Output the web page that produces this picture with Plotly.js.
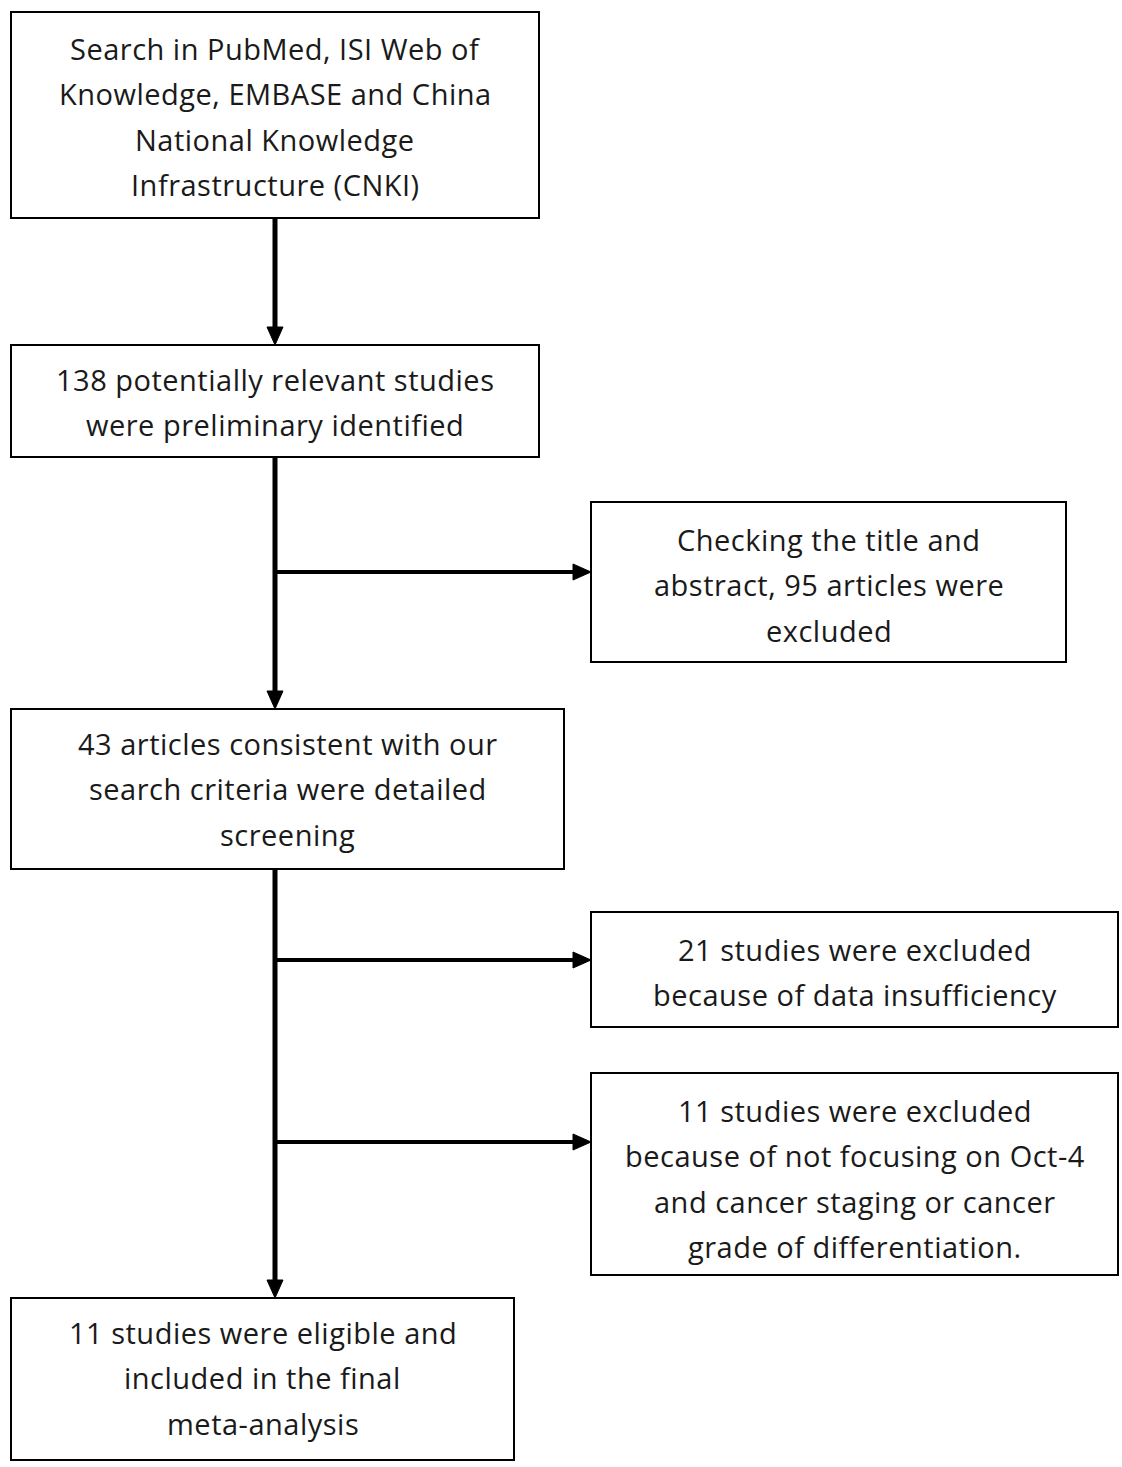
<!DOCTYPE html>
<html><head><meta charset="utf-8">
<script src="https://cdn.plot.ly/plotly-3.0.1.min.js"></script>
<style>html,body{margin:0;padding:0;background:#fff}#chart{width:1122px;height:1467px}
.annotation-text{letter-spacing:0.5px}</style>
</head><body><div id="chart"></div>
<script>
// Flowchart content
const boxNames = ["search", "identified", "excluded1", "screening", "excluded2", "excluded3", "included"];
const boxLines = [
  ["Search in PubMed, ISI Web of", "Knowledge, EMBASE and China", "National Knowledge", "Infrastructure (CNKI)"],
  ["138 potentially relevant studies", "were preliminary identified"],
  ["Checking the title and", "abstract, 95 articles were", "excluded"],
  ["43 articles consistent with our", "search criteria were detailed", "screening"],
  ["21 studies were excluded", "because of data insufficiency"],
  ["11 studies were excluded", "because of not focusing on Oct-4", "and cancer staging or cancer", "grade of differentiation."],
  ["11 studies were eligible and", "included in the final", "meta-analysis"]
];

// Layout geometry (pixel space)
const boxGeom = {
  search:     {x0: 11,  x1: 539,  y0: 12,   y1: 218,  ty: 48},
  identified: {x0: 11,  x1: 539,  y0: 345,  y1: 457,  ty: 379},
  excluded1:  {x0: 591, x1: 1066, y0: 502,  y1: 662,  ty: 539},
  screening:  {x0: 11,  x1: 564,  y0: 709,  y1: 869,  ty: 743},
  excluded2:  {x0: 591, x1: 1118, y0: 912,  y1: 1027, ty: 949},
  excluded3:  {x0: 591, x1: 1118, y0: 1073, y1: 1275, ty: 1110},
  included:   {x0: 11,  x1: 514,  y0: 1298, y1: 1460, ty: 1332}
};
const lineStep = 45.5;
const spineX = 275;
const downArrows = [[218, 345], [457, 709], [869, 1298]];
const sideArrows = [[572, "excluded1"], [960, "excluded2"], [1142, "excluded3"]];

const shapes = [];
const annotations = [];
const font = {family: "'Open Sans', sans-serif", size: 29, color: "#1a1a1a"};

boxNames.forEach((n, i) => {
  const g = boxGeom[n];
  shapes.push({type: "rect", xref: "x", yref: "y", x0: g.x0, x1: g.x1, y0: g.y0, y1: g.y1,
    line: {color: "#000", width: 2}, fillcolor: "rgba(0,0,0,0)"});
  const cx = (g.x0 + g.x1) / 2;
  boxLines[i].forEach((t, k) => {
    annotations.push({x: cx, y: g.ty + k * lineStep, xref: "x", yref: "y", text: t,
      showarrow: false, xanchor: "center", yanchor: "middle", font: font});
  });
});

// vertical spine pieces with downward arrowheads
downArrows.forEach(([a, b]) => {
  shapes.push({type: "line", xref: "x", yref: "y", x0: spineX, x1: spineX, y0: a, y1: b - 14,
    line: {color: "#000", width: 5}});
  shapes.push({type: "path", xref: "x", yref: "y",
    path: `M ${spineX - 8} ${b - 18} L ${spineX + 8} ${b - 18} L ${spineX} ${b} Z`,
    fillcolor: "#000", line: {color: "#000", width: 1}});
});

// side arrows
sideArrows.forEach(([y, n]) => {
  const x1 = boxGeom[n].x0;
  shapes.push({type: "line", xref: "x", yref: "y", x0: spineX, x1: x1 - 14, y0: y, y1: y,
    line: {color: "#000", width: 4}});
  shapes.push({type: "path", xref: "x", yref: "y",
    path: `M ${x1 - 18} ${y - 8} L ${x1 - 18} ${y + 8} L ${x1} ${y} Z`,
    fillcolor: "#000", line: {color: "#000", width: 1}});
});

const layout = {
  width: 1122, height: 1467,
  margin: {l: 0, r: 0, t: 0, b: 0},
  paper_bgcolor: "#fff", plot_bgcolor: "#fff",
  xaxis: {range: [0, 1122], visible: false, fixedrange: true},
  yaxis: {range: [1467, 0], visible: false, fixedrange: true},
  shapes: shapes, annotations: annotations, showlegend: false
};
Plotly.newPlot("chart", [{x: [], y: [], type: "scatter", mode: "markers", hoverinfo: "skip"}], layout, {staticPlot: true});
</script></body></html>
